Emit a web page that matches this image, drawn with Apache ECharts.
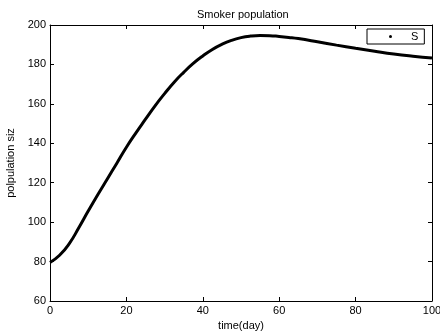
<!DOCTYPE html>
<html>
<head>
<meta charset="utf-8">
<script src="https://cdn.jsdelivr.net/npm/echarts@6/dist/echarts.min.js"></script>
<style>html,body{margin:0;padding:0;background:#fff;}#c{width:440px;height:333px;}</style>
</head>
<body>
<div id="c"></div>
<script>
const timeDays = [0, 2.5, 5, 7.5, 10, 12.5, 15, 17.5, 20, 22.5, 25, 27.5, 30, 32.5, 35, 37.5, 40, 42.5, 45, 47.5, 50, 52.5, 55, 57.5, 60, 62.5, 65, 70, 75, 80, 85, 90, 95, 100];
const smokers = [79.5, 83.2, 89, 97, 105.6, 113.9, 121.9, 129.9, 138, 145.3, 152.2, 159, 165.2, 171, 176, 180.5, 184.3, 187.6, 190.2, 192.2, 193.6, 194.4, 194.7, 194.6, 194.2, 193.7, 193.1, 191.5, 189.8, 188.2, 186.7, 185.3, 184.2, 183.3];
const xTicks = [0, 20, 40, 60, 80, 100];
const yTicks = [60, 80, 100, 120, 140, 160, 180, 200];
const seriesName = 'S';

const FONT = '"Liberation Sans", Arial, sans-serif';
const points = timeDays.map((t, i) => [t, smokers[i]]);
const lineStyleAxis = { color: '#000', width: 1 };

const chart = echarts.init(document.getElementById('c'), null, { renderer: 'canvas' });
chart.setOption({
  animation: false,
  backgroundColor: '#fff',
  title: {
    text: 'Smoker population',
    left: 192, top: 4,
    textStyle: { fontFamily: FONT, fontSize: 11, fontWeight: 'normal', color: '#000' }
  },
  legend: {
    data: [{ name: seriesName, icon: 'circle' }],
    left: 367, top: 29,
    padding: [1, 6, 1, 22],
    itemWidth: 3, itemHeight: 3,
    borderColor: '#000', borderWidth: 1, borderRadius: 0,
    backgroundColor: '#fff',
    textStyle: { fontFamily: FONT, fontSize: 11, color: '#000', lineHeight: 13, padding: [0, 0, 0, 14] }
  },
  grid: { left: 50, right: 8, top: 25, bottom: 32, containLabel: false, outerBoundsMode: 'none' },
  xAxis: [{
    type: 'value', min: xTicks[0], max: xTicks[xTicks.length - 1], interval: 20,
    name: 'time(day)', nameLocation: 'middle', nameGap: 13,
    nameTextStyle: { fontFamily: FONT, fontSize: 11, color: '#000' },
    axisLine: { show: true, lineStyle: lineStyleAxis },
    axisTick: { show: true, inside: true, length: 4, lineStyle: lineStyleAxis },
    axisLabel: { fontFamily: FONT, fontSize: 11, color: '#000', margin: 4 },
    splitLine: { show: false }
  }, {
    type: 'value', position: 'top', min: xTicks[0], max: xTicks[xTicks.length - 1], interval: 20,
    axisLine: { show: true, onZero: false, lineStyle: lineStyleAxis },
    axisTick: { show: true, inside: true, length: 4, lineStyle: lineStyleAxis },
    axisLabel: { show: false }, splitLine: { show: false }
  }],
  yAxis: [{
    type: 'value', min: yTicks[0], max: yTicks[yTicks.length - 1], interval: 20,
    name: 'polpulation siz', nameLocation: 'middle', nameGap: 25,
    nameTextStyle: { fontFamily: FONT, fontSize: 11, color: '#000' },
    axisLine: { show: true, lineStyle: lineStyleAxis },
    axisTick: { show: true, inside: true, length: 4, lineStyle: lineStyleAxis },
    axisLabel: { fontFamily: FONT, fontSize: 11, color: '#000', margin: 4 },
    splitLine: { show: false }
  }, {
    type: 'value', position: 'right', min: yTicks[0], max: yTicks[yTicks.length - 1], interval: 20,
    axisLine: { show: true, onZero: false, lineStyle: lineStyleAxis },
    axisTick: { show: true, inside: true, length: 4, lineStyle: lineStyleAxis },
    axisLabel: { show: false }, splitLine: { show: false }
  }],
  series: [{
    name: seriesName, type: 'line', data: points,
    xAxisIndex: 0, yAxisIndex: 0,
    smooth: 0.5, showSymbol: false, symbol: 'circle', symbolSize: 3,
    lineStyle: { color: '#000', width: 3 },
    itemStyle: { color: '#000' }
  }]
});
</script>
</body>
</html>
